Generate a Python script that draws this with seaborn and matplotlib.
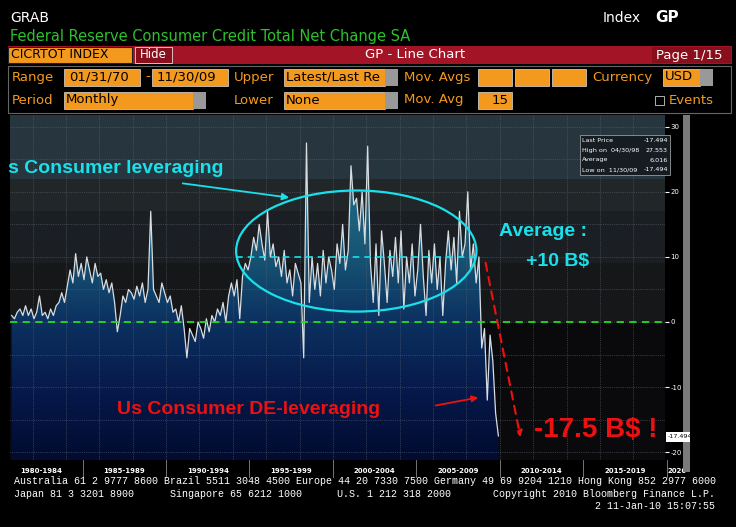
import matplotlib
matplotlib.use("Agg")
import matplotlib.pyplot as plt
import matplotlib.colors as mcolors
from matplotlib.patches import Rectangle, Ellipse, FancyArrowPatch, Polygon
import numpy as np
import pandas as pd
import seaborn as sns

# 데이터: 소비자신용 순변화 (십억 달러), 1980년 말 ~ 2009년 11월, 2개월 간격으로 읽음
start_year = 1980.75
values = [1, 0.5,
          1.5, 2, 1, 2.5, 1, 2,
          0.5, 1.5, 4, 1, 1.5, 0.5,
          2, 1, 2.5, 3, 4.5, 3,
          5.5, 8, 6, 10.5, 7, 9,
          6.5, 10, 8, 6, 9, 7,
          7.5, 5, 6.5, 4.5, 6, 3,
          -1.5, 1, 4, 3, 5, 4.5,
          3.5, 5.5, 4, 6, 3, 5,
          17, 5, 4, 3, 6, 4.5,
          3, 4, 1.5, 2, 0, 2.5,
          -1, -5.5, -1, -2, -3, 0,
          -1, -2.5, 0.5, -1.5, 1, 0,
          2, 1, 3, 0, 4, 6,
          4, 6.5, 0.5, 7, 9, 8,
          10, 13, 11, 15, 12, 9.5,
          17, 10, 12, 8.5, 10, 7,
          11, 6, 8, 4, 9, 7.5,
          6, -5.5, 27.5, 3, 10, 5,
          9, 4, 11, 6, 10, 8,
          5, 12, 9, 15, 8, 11,
          24, 18, 19, 14, 20, 12,
          27, 9, 3, 12, 1, 14,
          9, 3, 11, 7, 13, 6,
          14, 2, 10, 6, 12, 4,
          8, 15, 7, 1, 11, 6,
          12, 5, 10, 1, 9, 14,
          8, 13, 6, 17, 10, 12,
          20, 8, 12, 6, 10, -4,
          -1, -12, -2, -6, -14, -17.5]
block_labels = ["1980-1984", "1985-1989", "1990-1994", "1995-1999",
                "2000-2004", "2005-2009", "2010-2014", "2015-2019", "2020-"]
block_starts = [1980, 1985, 1990, 1995, 2000, 2005, 2010, 2015, 2020]
y_ticks = [30, 20, 10, 0, -10, -20]
stats_names = ["Last Price", "High on  04/30/98", "Average", "Low on  11/30/09"]
stats_values = ["-17.494", "27.553", "6.016", "-17.494"]

df = pd.DataFrame({"year": start_year + np.arange(len(values)) / 6.0, "value": values})

W, H = 736, 527
fig = plt.figure(figsize=(W / 100, H / 100), dpi=100, facecolor="black")


def fx(x):
    return x / W


def fy(y):
    return 1 - y / H


def box(x0, y0, x1, y1, fc, ec="none", lw=0.8):
    fig.add_artist(Rectangle((fx(x0), fy(y1)), fx(x1) - fx(x0), fy(y0) - fy(y1),
                             transform=fig.transFigure, fc=fc, ec=ec, lw=lw))


def txt(x, y, s, color="white", size=10, **kw):
    fig.text(fx(x), fy(y), s, color=color, fontsize=size, va="center", **kw)


# 헤더
orange = "#f39a1e"
txt(10, 18, "GRAB", size=10)
txt(603, 18, "Index", size=10)
txt(655, 18, "GP", size=11, weight="bold")
txt(10, 37, "Federal Reserve Consumer Credit Total Net Change SA", color="#2ec02e", size=10.5)
box(8, 46, 732, 64, "#a31526")
box(8, 47, 132, 63, orange, ec="#222")
txt(11, 55, "CICRTOT INDEX", color="black", size=9)
box(135, 47, 172, 63, "#8a0f1c", ec="#ddd", lw=0.6)
txt(140, 54, "Hide", size=8.5)
txt(415, 55, "GP - Line Chart", size=9.5, ha="center")
box(652, 47, 731, 63, "#8a0f1c")
txt(656, 55, "Page 1/15", size=9.5)
box(8, 66, 731, 113, "black", ec="#666")

row1, row2 = 77, 100
txt(12, row1, "Range", color=orange, size=9.5)
box(64, 69, 140, 86, orange, ec="#ddd", lw=0.5)
txt(69, row1, "01/31/70", color="black", size=9.5)
txt(145, row1, "-", color=orange, size=9.5)
box(152, 69, 228, 86, orange, ec="#ddd", lw=0.5)
txt(157, row1, "11/30/09", color="black", size=9.5)
txt(234, row1, "Upper", color=orange, size=9.5)
box(284, 69, 385, 86, orange, ec="#ddd", lw=0.5)
box(385, 69, 398, 86, "#999")
txt(286, row1, "Latest/Last Re", color="black", size=9.5)
txt(404, row1, "Mov. Avgs", color=orange, size=9.5)
for a, b in [(478, 512), (515, 549), (552, 586)]:
    box(a, 69, b, 86, orange, ec="#ddd", lw=0.5)
txt(592, row1, "Currency", color=orange, size=9.5)
box(663, 69, 700, 86, orange, ec="#ddd", lw=0.5)
box(700, 69, 713, 86, "#999")
txt(665, row1, "USD", color="black", size=9.5)

txt(12, row2, "Period", color=orange, size=9.5)
box(64, 92, 193, 109, orange, ec="#ddd", lw=0.5)
box(193, 92, 206, 109, "#999")
txt(66, row2, "Monthly", color="black", size=9.5)
txt(234, row2, "Lower", color=orange, size=9.5)
box(284, 92, 385, 109, orange, ec="#ddd", lw=0.5)
box(385, 92, 398, 109, "#999")
txt(286, row2, "None", color="black", size=9.5)
txt(404, row2, "Mov. Avg", color=orange, size=9.5)
box(478, 92, 512, 109, orange, ec="#ddd", lw=0.5)
txt(509, row2, "15", color="black", size=9.5, ha="right")
box(655, 96, 664, 105, "black", ec="#ccc", lw=0.6)
txt(669, row2, "Events", color=orange, size=9.5)

box(683, 115, 690, 472, "#7a7a7a")

# 차트 영역
ax = fig.add_axes([fx(10), fy(460), fx(665) - fx(10), fy(115) - fy(460)])
x0, x1 = 1980.65, 2019.9
y0, y1 = -21.2, 31.8
ax.set_xlim(x0, x1)
ax.set_ylim(y0, y1)
ax.set_facecolor("black")

bands = [(22, 31.8, "#27353e"), (17, 22, "#212729"), (9, 17, "#1b1f24"),
         (0, 9, "#161719"), (-21.2, 0, "#0a0a0c")]
for lo, hi, c in bands:
    ax.axhspan(lo, hi, color=c, zorder=0, lw=0)

# 곡선 아래 그라데이션 채우기
poly_x = np.concatenate([[df.year.iloc[0]], df.year.values, [df.year.iloc[-1]]])
poly_y = np.concatenate([[y0], df.value.values, [y0]])
poly = Polygon(np.column_stack([poly_x, poly_y]), closed=True, fc="none", ec="none")
ax.add_patch(poly)
cmap = mcolors.LinearSegmentedColormap.from_list(
    "fill", ["#020b30", "#06194a", "#0c3160", "#175675", "#1f6a86", "#2b7895"])
grad = np.linspace(0, 1, 256).reshape(-1, 1)
im = ax.imshow(grad, extent=[x0, x1, y0, y1], origin="lower", cmap=cmap,
               aspect="auto", zorder=1)
im.set_clip_path(poly)

for yr in range(1982, 2021, 2):
    ax.axvline(yr, color="#5a6470", lw=0.5, ls=":", zorder=2)
for v in range(-20, 31, 5):
    ax.axhline(v, color="#5a6470", lw=0.5, ls=":", zorder=2)

sns.lineplot(data=df, x="year", y="value", ax=ax, color="#d8dde2", lw=0.9, zorder=4)

ax.axhline(0, color="#22dd22", lw=1.3, ls=(0, (4, 3)), zorder=5)
ax.plot([1994.2, 2008.6], [10, 10], color="#19e0ea", lw=1.2, ls=(0, (4, 3)), zorder=5)
ax.add_patch(Ellipse((2001.4, 10.9), 14.4, 18.6, fc="none", ec="#19e0ea", lw=1.6, zorder=6))

ax.yaxis.tick_right()
ax.set_yticks(y_ticks)
ax.set_yticklabels([str(v) for v in y_ticks])
ax.tick_params(axis="y", colors="white", labelsize=5, length=3, pad=1)
ax.set_xticks([])
ax.set_xlabel("")
ax.set_ylabel("")
for s in ax.spines.values():
    s.set_visible(False)

# 5년 구간 라벨
xt = ax.get_xaxis_transform()
for yr, lab in zip(block_starts, block_labels):
    cx = yr + 2.5 if yr < 2020 else yr + 0.05
    ax.text(cx, -0.022, lab, transform=xt, color="white",
            fontsize=5, ha="center" if yr < 2020 else "left", va="top", weight="bold",
            clip_on=False)
    if yr > 1980:
        ax.plot([yr, yr], [-0.05, 0], transform=xt, color="#888", lw=0.6, clip_on=False)

# 통계 상자
box(580, 135, 670, 175, "#151c22", ec="#999", lw=0.6)
for i, (n, v) in enumerate(zip(stats_names, stats_values)):
    txt(582, 141 + i * 9.5, n, size=4.6)
    txt(668, 141 + i * 9.5, v, size=4.6, ha="right")
box(666, 432, 690, 442, "white")
txt(668, 437, "-17.494", color="black", size=4.6)

# 주석
cyan = "#19e0ea"
red = "#ee1111"
txt(8, 168, "s Consumer leveraging", color=cyan, size=14, weight="bold", family="Liberation Sans")
fig.add_artist(FancyArrowPatch((fx(180), fy(183)), (fx(292), fy(198)), transform=fig.transFigure,
                               arrowstyle="-|>", mutation_scale=10, color=cyan, lw=1.3))
txt(499, 231, "Average :", color=cyan, size=14, weight="bold", family="Liberation Sans")
txt(526, 262, "+10 B$", color=cyan, size=14, weight="bold", family="Liberation Sans")
txt(117, 410, "Us Consumer DE-leveraging", color=red, size=14, weight="bold", family="Liberation Sans")
fig.add_artist(FancyArrowPatch((fx(433), fy(406)), (fx(481), fy(397)), transform=fig.transFigure,
                               arrowstyle="-|>", mutation_scale=9, color=red, lw=1.3))
fig.add_artist(FancyArrowPatch((fx(485), fy(260)), (fx(521), fy(440)), transform=fig.transFigure,
                               arrowstyle="-|>", mutation_scale=9, color=red, lw=1.5,
                               linestyle=(0, (4, 3))))
txt(534, 430, "-17.5 B$ !", color=red, size=20, weight="bold", family="Liberation Sans")

# 하단 정보
foot = dict(size=7.2, family="Liberation Mono")
txt(14, 481, "Australia 61 2 9777 8600 Brazil 5511 3048 4500 Europe 44 20 7330 7500 Germany 49 69 9204 1210 Hong Kong 852 2977 6000", **foot)
txt(14, 494, "Japan 81 3 3201 8900", **foot)
txt(170, 494, "Singapore 65 6212 1000", **foot)
txt(337, 494, "U.S. 1 212 318 2000", **foot)
txt(715, 494, "Copyright 2010 Bloomberg Finance L.P.", ha="right", **foot)
txt(715, 506, "2 11-Jan-10 15:07:55", ha="right", **foot)

fig.savefig("out.png", dpi=100, facecolor="black")
